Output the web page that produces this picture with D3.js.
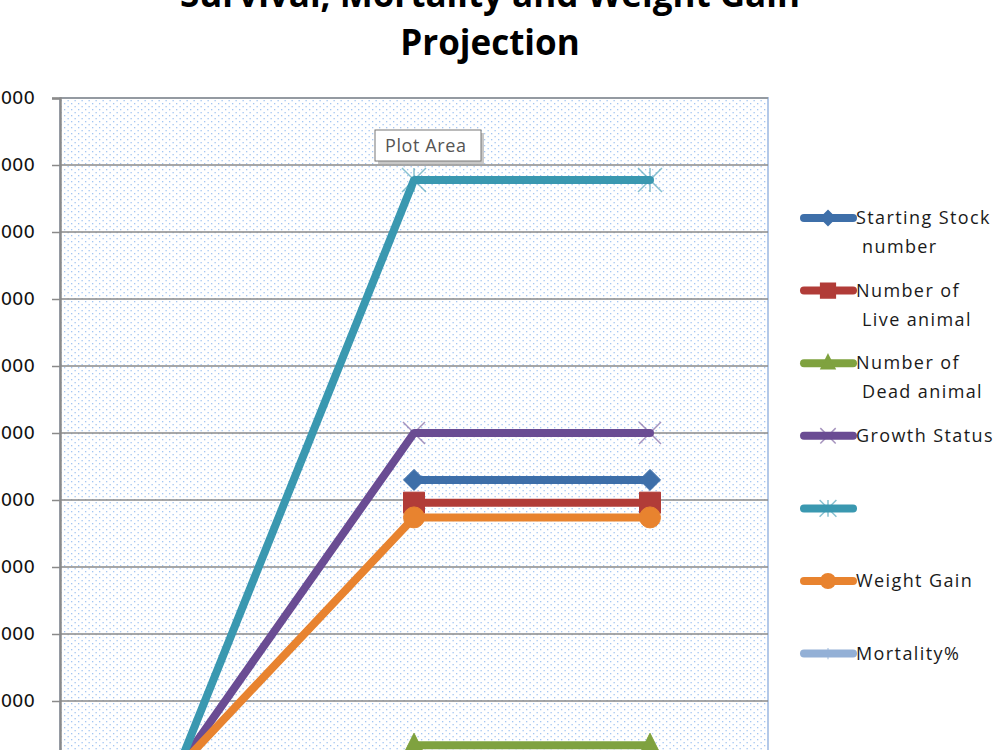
<!DOCTYPE html>
<html>
<head>
<meta charset="utf-8">
<script src="https://cdn.jsdelivr.net/npm/d3@7"></script>
<style>
  body { margin: 0; background: #fff; }
  svg { display: block; font-family: 'Open Sans', sans-serif; }
</style>
</head>
<body>
<div class="graph"></div>
<script>
// chart values
const categories = ['1', '2', '3'];
const yTicks = [1000, 2000, 3000, 4000, 5000, 6000, 7000, 8000, 9000, 10000];

const startingStock = [null, 4300, 4300];
const liveAnimal = [null, 3960, 3960];
const deadAnimal = [null, 340, 340];
const growthStatus = [0, 5000, 5000];
const unnamedSeries = [0, 8775, 8775];
const weightGain = [0, 3740, 3740];
const mortality = [0, 8, 8];

const titleLines = ['Survival, Mortality and Weight Gain', 'Projection'];

const seriesNames = [
  ['Starting Stock', 'number'],
  ['Number of', 'Live animal'],
  ['Number of', 'Dead animal'],
  ['Growth Status'],
  [''],
  ['Weight Gain'],
  ['Mortality%'],
];

const width = 1000;
const height = 750;
// the picture is a crop of a bigger chart: the zero line sits just below the frame
const plot = {
  left: 60, right: 768, top: 98, bottom: 768,
};

const series = [
  { values: startingStock, color: '#3e6fa9', marker: 'diamond' },
  { values: liveAnimal, color: '#b13c38', marker: 'square' },
  { values: deadAnimal, color: '#7fa23f', marker: 'triangle' },
  { values: growthStatus, color: '#6a4c93', marker: 'x' },
  { values: unnamedSeries, color: '#3a98b0', marker: 'star' },
  { values: weightGain, color: '#e8832f', marker: 'circle' },
  { values: mortality, color: '#93b0d6', marker: 'plus' },
].map((s, i) => ({ ...s, name: seriesNames[i] }));

const svg = d3.select('.graph').append('svg')
  .attr('width', width)
  .attr('height', height);

// dotted fill of the plot area
const defs = svg.append('defs');
const pat = defs.append('pattern')
  .attr('id', 'dots')
  .attr('patternUnits', 'userSpaceOnUse')
  .attr('width', 7)
  .attr('height', 6);
pat.append('rect').attr('width', 7).attr('height', 6).attr('fill', '#fff');
pat.append('rect').attr('x', 1).attr('y', 1).attr('width', 1.3).attr('height', 1.3).attr('fill', '#a4c6f2');
pat.append('rect').attr('x', 4.5).attr('y', 4).attr('width', 1.3).attr('height', 1.3).attr('fill', '#a4c6f2');

const x = d3.scaleBand()
  .domain(categories)
  .range([plot.left, plot.right]);
const xc = (c) => x(c) + x.bandwidth() / 2;

const y = d3.scaleLinear()
  .domain([0, 10000])
  .range([plot.bottom, plot.top]);

svg.append('rect')
  .attr('x', plot.left)
  .attr('y', plot.top)
  .attr('width', plot.right - plot.left)
  .attr('height', plot.bottom - plot.top)
  .attr('fill', 'url(#dots)')
  .attr('stroke', '#b4c9e8')
  .attr('stroke-width', 2);

// gridlines
svg.append('g').selectAll('line')
  .data(yTicks)
  .enter()
  .append('line')
  .attr('x1', plot.left)
  .attr('x2', plot.right)
  .attr('y1', (d) => y(d))
  .attr('y2', (d) => y(d))
  .attr('stroke', '#8a8a8a')
  .attr('stroke-width', 1.5);

// y axis (leading digits run off the left edge, as in the crop)
const yAxis = svg.append('g')
  .attr('transform', `translate(${plot.left},0)`)
  .call(d3.axisLeft(y).tickValues(yTicks).tickFormat(d3.format('d'))
    .tickSize(8)
    .tickPadding(17));
yAxis.select('.domain').attr('stroke', '#8a8a8a').attr('stroke-width', 2.5);
yAxis.selectAll('.tick line').attr('stroke', '#8a8a8a').attr('stroke-width', 1.5);
yAxis.selectAll('.tick text')
  .attr('font-family', "'DejaVu Sans', sans-serif")
  .attr('font-size', 18)
  .attr('fill', '#111');

// x axis (below the visible area)
const xAxis = svg.append('g')
  .attr('transform', `translate(0,${plot.bottom})`)
  .call(d3.axisBottom(x).tickSize(0).tickPadding(10));
xAxis.select('.domain').attr('stroke', '#8a8a8a').attr('stroke-width', 2);

const markerPath = (type, r) => {
  switch (type) {
    case 'diamond':
      return `M0,${-r}L${r},0L0,${r}L${-r},0Z`;
    case 'square':
      return `M${-r},${-r}H${r}V${r}H${-r}Z`;
    case 'triangle':
      return `M0,${-r * 1.2}L${r},${r * 0.8}L${-r},${r * 0.8}Z`;
    case 'circle':
      return d3.symbol(d3.symbolCircle, Math.PI * r * r)();
    case 'x':
      return `M${-r},${-r}L${r},${r}M${-r},${r}L${r},${-r}`;
    case 'star':
      return `M${-r},${-r}L${r},${r}M${-r},${r}L${r},${-r}M0,${-r}V${r}`;
    case 'plus':
      return `M0,${-r}V${r}`;
    default:
      return '';
  }
};
const filled = (type) => ['diamond', 'square', 'triangle', 'circle'].includes(type);
const markerSize = {
  diamond: 10.5, square: 10.5, triangle: 10, circle: 10.5, x: 11, star: 12, plus: 8,
};

const line = d3.line()
  .defined((d) => d.v !== null)
  .x((d) => xc(d.c))
  .y((d) => y(d.v));

const seriesG = svg.append('g').selectAll('g')
  .data(series)
  .enter()
  .append('g');

seriesG.append('path')
  .attr('d', (s) => line(s.values.map((v, i) => ({ v, c: categories[i] }))))
  .attr('fill', 'none')
  .attr('stroke', (s) => s.color)
  .attr('stroke-width', 8)
  .attr('stroke-linejoin', 'round')
  .attr('stroke-linecap', 'round');

seriesG.each(function drawMarkers(s) {
  d3.select(this).selectAll('.mk')
    .data(s.values.map((v, i) => ({ v, c: categories[i] })).filter((d) => d.v !== null && d.c !== '1'))
    .enter()
    .append('path')
    .attr('class', 'mk')
    .attr('transform', (d) => `translate(${xc(d.c)},${y(d.v)})`)
    .attr('d', markerPath(s.marker, markerSize[s.marker]))
    .attr('fill', filled(s.marker) ? s.color : 'none')
    .attr('stroke', s.color)
    .attr('stroke-opacity', filled(s.marker) ? 1 : 0.6)
    .attr('stroke-width', filled(s.marker) ? 1 : 1.5);
});

// legend
const legend = svg.append('g').selectAll('g')
  .data(series)
  .enter()
  .append('g')
  .attr('transform', (d, i) => `translate(0,${218 + i * 72.6})`);

legend.append('line')
  .attr('x1', 804)
  .attr('x2', 853)
  .attr('stroke', (d) => d.color)
  .attr('stroke-width', 8)
  .attr('stroke-linecap', 'round');

legend.append('path')
  .attr('transform', 'translate(828,0)')
  .attr('d', (d) => markerPath(d.marker, markerSize[d.marker] * 0.7))
  .attr('fill', (d) => (filled(d.marker) ? d.color : 'none'))
  .attr('stroke', (d) => d.color)
  .attr('stroke-opacity', (d) => (filled(d.marker) ? 1 : 0.6))
  .attr('stroke-width', 1.5);

legend.each(function drawLabel(d) {
  d3.select(this).selectAll('text')
    .data(d.name)
    .enter()
    .append('text')
    .attr('x', (t, i) => (i === 0 ? 856 : 862))
    .attr('y', (t, i) => 6 + i * 29)
    .attr('font-size', 18)
    .attr('letter-spacing', 1.4)
    .attr('fill', '#1a1a1a')
    .text((t) => t);
});

// title
svg.append('g').selectAll('text')
  .data(titleLines)
  .enter()
  .append('text')
  .attr('x', 490)
  .attr('y', (d, i) => 7 + i * 48)
  .attr('text-anchor', 'middle')
  .attr('font-size', 35)
  .attr('font-weight', 'bold')
  .attr('fill', '#000')
  .text((d) => d);

// "Plot Area" hover tip
const tip = svg.append('g').attr('transform', 'translate(375,130)');
tip.append('rect')
  .attr('x', 3).attr('y', 3).attr('width', 106).attr('height', 31)
  .attr('fill', '#c8c8c8');
tip.append('rect')
  .attr('width', 106).attr('height', 31)
  .attr('fill', '#fff')
  .attr('stroke', '#777');
tip.append('text')
  .attr('x', 10).attr('y', 22)
  .attr('font-size', 18)
  .attr('letter-spacing', 0.6)
  .attr('fill', '#555')
  .text('Plot Area');
</script>
</body>
</html>
